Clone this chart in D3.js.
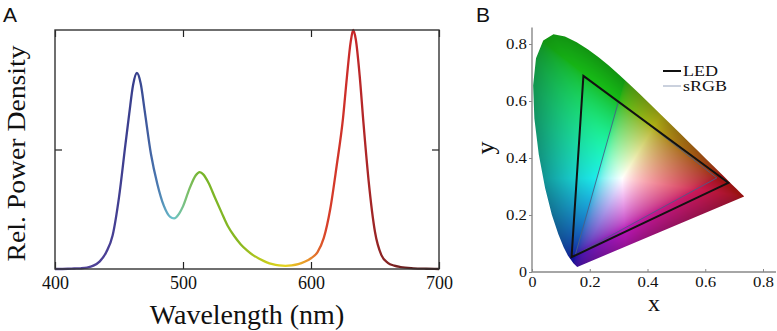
<!DOCTYPE html>
<html>
<head>
<meta charset="utf-8">
<script src="https://cdn.jsdelivr.net/npm/d3@7"></script>
<style>
  body { margin: 0; background: #fff; }
  svg { display: block; }
</style>
</head>
<body>
<div id="chart"></div>
<script>
// Panel A: relative spectral power density of the LED
const wavelengths = [400, 410, 415, 420, 425, 430, 435, 440, 445, 450, 455, 458, 461, 464, 467, 470, 475, 480, 485, 490,
  493, 497, 500, 505, 510, 513, 516, 520, 525, 530, 535, 540, 545, 550, 555, 560, 565, 570, 575, 580, 585, 590, 595,
  600, 605, 610, 615, 620, 625, 628, 631, 633, 635, 638, 641, 645, 650, 655, 660, 665, 670, 680, 690, 700];
const power = [0, 0.001, 0.002, 0.003, 0.006, 0.014, 0.032, 0.07, 0.14, 0.30, 0.52, 0.65, 0.77, 0.82, 0.775, 0.665, 0.48, 0.355, 0.265, 0.218,
  0.212, 0.232, 0.262, 0.335, 0.392, 0.405, 0.395, 0.36, 0.298, 0.238, 0.18, 0.138, 0.104, 0.078, 0.057, 0.042, 0.029, 0.02, 0.015, 0.013, 0.015, 0.02, 0.03,
  0.045, 0.07, 0.13, 0.25, 0.43, 0.63, 0.80, 0.95, 1.0, 0.96, 0.81, 0.61, 0.37, 0.155, 0.058, 0.026, 0.014, 0.008, 0.003, 0.001, 0];
const xTicksA = [400, 500, 600, 700];

// line colour along the wavelength axis
const stopNm = [400, 440, 464, 480, 492, 503, 513, 545, 565, 580, 598, 612, 633, 655, 680, 700];
const stopColor = ["#5b4a9c", "#4a3f95", "#363f8c", "#4a78b0", "#6cc4cc", "#7cc070", "#76b42a", "#8ab820",
  "#c4cc1c", "#e6d41e", "#e8902c", "#d8402a", "#c8282a", "#8e2424", "#5e1e1e", "#4a1a1a"];

// Panel B: CIE 1931 spectral locus (from 450 nm on), LED and sRGB gamuts
const locusX = [0.1566, 0.1440, 0.1241, 0.1096, 0.0913, 0.0687, 0.0454, 0.0235, 0.0082, 0.0039, 0.0139, 0.0389, 0.0743,
  0.1142, 0.1547, 0.1929, 0.2296, 0.2658, 0.3016, 0.3373, 0.3731, 0.4087, 0.4441, 0.4788, 0.5125, 0.5448, 0.5752,
  0.6029, 0.6270, 0.6658, 0.6915, 0.7079, 0.7190, 0.7260, 0.7300, 0.7334, 0.7347];
const locusY = [0.0177, 0.0297, 0.0578, 0.0868, 0.1327, 0.2007, 0.2950, 0.4127, 0.5384, 0.6548, 0.7502, 0.8120, 0.8338,
  0.8262, 0.8059, 0.7816, 0.7543, 0.7243, 0.6923, 0.6589, 0.6245, 0.5896, 0.5547, 0.5202, 0.4866, 0.4544, 0.4242,
  0.3965, 0.3725, 0.3340, 0.3083, 0.2920, 0.2809, 0.2740, 0.2700, 0.2666, 0.2653];
const ledX = [0.178, 0.680, 0.137];
const ledY = [0.688, 0.313, 0.052];
const srgbX = [0.64, 0.30, 0.15];
const srgbY = [0.33, 0.60, 0.06];
const xyTicks = [0, 0.2, 0.4, 0.6, 0.8];
const legendNames = ["LED", "sRGB"];

const W = 777, H = 331;
const serif = "'Liberation Serif', 'Times New Roman', serif";
const sans = "'Liberation Sans', Arial, sans-serif";

const svg = d3.select("#chart").append("svg").attr("width", W).attr("height", H);
const defs = svg.append("defs");

// ---------- Panel A ----------
const xA = d3.scaleLinear().domain([400, 700]).range([55, 439]);
const yA = d3.scaleLinear().domain([0, 1]).range([269, 30]);

const grad = defs.append("linearGradient")
  .attr("id", "spec")
  .attr("gradientUnits", "userSpaceOnUse")
  .attr("x1", xA(400)).attr("x2", xA(700)).attr("y1", 0).attr("y2", 0);
grad.selectAll("stop")
  .data(stopNm)
  .join("stop")
  .attr("offset", d => (xA(d) - xA(400)) / (xA(700) - xA(400)))
  .attr("stop-color", (d, i) => stopColor[i]);

const spectrum = wavelengths.map((w, i) => ({ w, p: power[i] }));
svg.append("path")
  .datum(spectrum)
  .attr("fill", "none")
  .attr("stroke", "url(#spec)")
  .attr("stroke-width", 2.3)
  .attr("d", d3.line().x(d => xA(d.w)).y(d => yA(d.p)).curve(d3.curveMonotoneX));

const axA = svg.append("g").attr("class", "axisA");
axA.append("g")
  .attr("transform", `translate(0,${yA(0)})`)
  .call(d3.axisBottom(xA).tickValues(xTicksA).tickSizeInner(-7).tickSizeOuter(0).tickFormat(d3.format("d")))
  .call(g => g.select(".domain").remove())
  .call(g => g.selectAll("text").attr("y", 20).attr("dy", 0)
    .style("font-family", serif).style("font-size", "18px").attr("fill", "#111"));
axA.append("g")
  .attr("transform", `translate(0,${yA(1)})`)
  .call(d3.axisTop(xA).tickValues(xTicksA).tickSizeInner(-7).tickSizeOuter(0).tickFormat(""))
  .call(g => g.select(".domain").remove());
axA.append("g")
  .attr("transform", `translate(${xA(400)},0)`)
  .call(d3.axisLeft(yA).tickValues([0.5]).tickSizeInner(-7).tickSizeOuter(0).tickFormat(""))
  .call(g => g.select(".domain").remove());
axA.append("g")
  .attr("transform", `translate(${xA(700)},0)`)
  .call(d3.axisRight(yA).tickValues([0.5]).tickSizeInner(-7).tickSizeOuter(0).tickFormat(""))
  .call(g => g.select(".domain").remove());
axA.selectAll(".tick line").attr("stroke", "#222").attr("stroke-width", 1.2);

svg.append("rect")
  .attr("x", xA(400)).attr("y", yA(1))
  .attr("width", xA(700) - xA(400)).attr("height", yA(0) - yA(1))
  .attr("fill", "none").attr("stroke", "#333").attr("stroke-width", 1.4);

svg.append("text")
  .attr("x", (xA(400) + xA(700)) / 2).attr("y", 324)
  .attr("text-anchor", "middle")
  .style("font-family", serif).style("font-size", "28px").attr("fill", "#111")
  .text("Wavelength (nm)");
svg.append("text")
  .attr("transform", `translate(25,${(yA(0) + yA(1)) / 2 + 4}) rotate(-90)`)
  .attr("text-anchor", "middle")
  .style("font-family", serif).style("font-size", "26px").attr("fill", "#111")
  .attr("textLength", 216).attr("lengthAdjust", "spacingAndGlyphs")
  .text("Rel. Power Density");
svg.append("text")
  .attr("x", 3).attr("y", 22)
  .style("font-family", sans).style("font-size", "21px").attr("fill", "#111")
  .text("A");

// ---------- Panel B ----------
const xB = d3.scaleLinear().domain([0, 0.8]).range([532, 763]);
const yB = d3.scaleLinear().domain([0, 0.8]).range([272, 44]);

const locus = locusX.map((x, i) => [xB(x), yB(locusY[i])]);
defs.append("clipPath").attr("id", "horseshoe")
  .append("path")
  .attr("d", d3.line()(locus) + "Z");

// distance from the white point to the rim of the locus along a direction
const wx = 0.3127, wy = 0.329;
const rimDistance = (ux, uy) => {
  let best = Infinity;
  const n = locusX.length;
  for (let k = 0; k < n; k++) {
    const ax = locusX[k] - wx, ay = locusY[k] - wy;
    const bx = locusX[(k + 1) % n] - wx, by = locusY[(k + 1) % n] - wy;
    const ex = bx - ax, ey = by - ay;
    const den = ux * ey - uy * ex;
    if (Math.abs(den) < 1e-12) continue;
    const t = (ax * ey - ay * ex) / den;
    const s = (ax * uy - ay * ux) / den;
    if (t > 0 && s >= 0 && s <= 1) best = Math.min(best, t);
  }
  return best;
};

// colour fill of the diagram, one pixel at a time from the xy coordinates,
// shaded darker towards the rim
const ox = 530, oy = 26, cw = 225, ch = 250;
const canvas = document.createElement("canvas");
canvas.width = cw; canvas.height = ch;
const ctx = canvas.getContext("2d");
const img = ctx.createImageData(cw, ch);
const gamma = v => v <= 0.0031308 ? 12.92 * v : 1.055 * Math.pow(v, 1 / 2.4) - 0.055;
for (let j = 0; j < ch; j++) {
  for (let i = 0; i < cw; i++) {
    const x = xB.invert(ox + i + 0.5);
    const y = Math.max(yB.invert(oy + j + 0.5), 0.005);
    const X = x / y, Y = 1, Z = (1 - x - y) / y;
    let r = 3.2406 * X - 1.5372 * Y - 0.4986 * Z;
    let g = -0.9689 * X + 1.8758 * Y + 0.0415 * Z;
    let b = 0.0557 * X - 0.2040 * Y + 1.0570 * Z;
    r = Math.max(r, 0); g = Math.max(g, 0); b = Math.max(b, 0);
    const m = Math.max(r, g, b) || 1;
    r = gamma(r / m) * 0.88 + 0.12;
    g = gamma(g / m) * 0.88 + 0.12;
    b = gamma(b / m) * 0.88 + 0.12;
    const dx = x - wx, dy = y - wy;
    const d = Math.sqrt(dx * dx + dy * dy);
    const R = d > 1e-6 ? rimDistance(dx / d, dy / d) : 1;
    const t = Math.min(1, d / R);
    const shade = 1 - 0.42 * Math.pow(t, 1.5);
    const k = (i + j * cw) * 4;
    img.data[k] = 255 * r * shade;
    img.data[k + 1] = 255 * g * shade;
    img.data[k + 2] = 255 * b * shade;
    img.data[k + 3] = 255;
  }
}
ctx.putImageData(img, 0, 0);

svg.append("image")
  .attr("x", ox).attr("y", oy).attr("width", cw).attr("height", ch)
  .attr("href", canvas.toDataURL())
  .attr("clip-path", "url(#horseshoe)");

const tri = (xs, ys) => d3.line()(xs.map((x, i) => [xB(x), yB(ys[i])])) + "Z";
svg.append("path")
  .attr("d", tri(srgbX, srgbY))
  .attr("fill", "none").attr("stroke", "#4d5f86").attr("stroke-width", 0.9);
svg.append("path")
  .attr("d", tri(ledX, ledY))
  .attr("fill", "none").attr("stroke", "#111").attr("stroke-width", 2);

// axes
const axB = svg.append("g");
axB.append("g")
  .attr("transform", `translate(0,${yB(0)})`)
  .call(d3.axisBottom(xB).tickValues(xyTicks).tickSizeInner(-3).tickSizeOuter(0)
    .tickFormat(d => d === 0 ? "0" : d.toFixed(1)))
  .call(g => g.select(".domain").remove())
  .call(g => g.selectAll("text").attr("y", 14.5).attr("dy", 0));
axB.append("g")
  .attr("transform", `translate(${xB(0)},0)`)
  .call(d3.axisLeft(yB).tickValues(xyTicks).tickSize(3)
    .tickFormat(d => d === 0 ? "0" : d.toFixed(1)))
  .call(g => g.select(".domain").remove())
  .call(g => g.selectAll("text").attr("dy", "0.33em").attr("x", -5));
axB.selectAll(".tick line").attr("stroke", "#888").attr("stroke-width", 1);
axB.selectAll(".tick text")
  .style("font-family", serif).style("font-size", "15px").attr("fill", "#111")
  .attr("textLength", function() { return this.textContent.length > 1 ? 21 : 8; })
  .attr("lengthAdjust", "spacingAndGlyphs");

axB.append("line")
  .attr("x1", xB(0)).attr("x2", xB(0.845)).attr("y1", yB(0)).attr("y2", yB(0))
  .attr("stroke", "#888").attr("stroke-width", 1.4);
axB.append("line")
  .attr("x1", xB(0)).attr("x2", xB(0)).attr("y1", yB(0)).attr("y2", yB(0.858))
  .attr("stroke", "#888").attr("stroke-width", 1.4);

svg.append("text")
  .attr("x", 654).attr("y", 311)
  .attr("text-anchor", "middle")
  .style("font-family", serif).style("font-size", "24px").attr("fill", "#111")
  .text("x");
svg.append("text")
  .attr("transform", `translate(494,148) rotate(-90)`)
  .attr("text-anchor", "middle")
  .style("font-family", serif).style("font-size", "26px").attr("fill", "#111")
  .text("y");
svg.append("text")
  .attr("x", 476).attr("y", 22)
  .style("font-family", sans).style("font-size", "21px").attr("fill", "#111")
  .text("B");

// legend
const leg = svg.append("g").attr("transform", "translate(663,71)");
leg.selectAll("line")
  .data(legendNames)
  .join("line")
  .attr("x1", 0).attr("x2", 18)
  .attr("y1", (d, i) => i * 15).attr("y2", (d, i) => i * 15)
  .attr("stroke", (d, i) => i === 0 ? "#111" : "#8a98b4")
  .attr("stroke-width", (d, i) => i === 0 ? 2 : 0.9);
leg.selectAll("text")
  .data(legendNames)
  .join("text")
  .attr("x", 20)
  .attr("y", (d, i) => i * 15 + 5)
  .style("font-family", serif).style("font-size", "14px").attr("fill", "#111")
  .attr("textLength", (d, i) => i === 0 ? 35 : 44)
  .attr("lengthAdjust", "spacingAndGlyphs")
  .text(d => d);
</script>
</body>
</html>
